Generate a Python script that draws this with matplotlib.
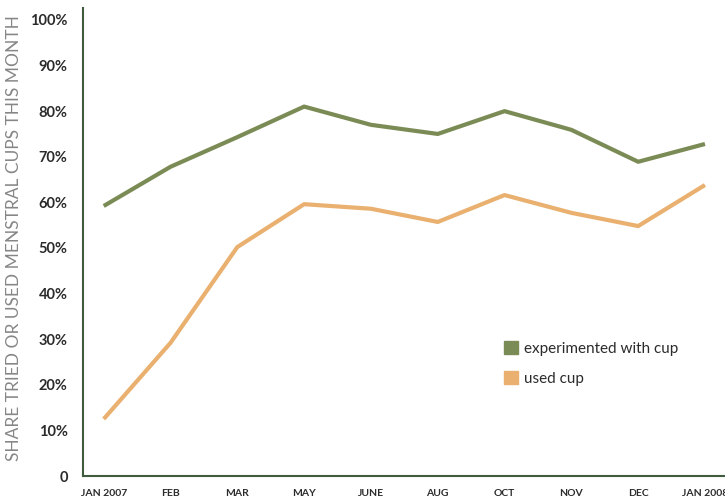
"""Menstrual cup usage chart"""

import matplotlib
matplotlib.use("Agg")
import matplotlib.pyplot as plt
from matplotlib.patches import Patch

# ── data ──────────────────────────────────────────
months = ["JAN 2007", "FEB", "MAR", "MAY", "JUNE", "AUG", "OCT", "NOV", "DEC", "JAN 2008"]
experimented = [59.2, 67.8, 74.3, 81.0, 77.0, 75.0, 80.0, 75.9, 68.9, 72.8]
used = [12.5, 29.2, 50.2, 59.6, 58.6, 55.7, 61.6, 57.7, 54.8, 63.8]
y_ticks = [0, 10, 20, 30, 40, 50, 60, 70, 80, 90, 100]
y_labels = ["0"] + [f"{v}%" for v in y_ticks[1:]]

GREEN = "#7b8b55"
ORANGE = "#e9b06f"
SPINE = "#3f5a3c"
TEXT = "#2b2b2b"

plt.rcParams["font.family"] = ["Lato", "DejaVu Sans"]

fig = plt.figure(figsize=(7.25, 5.01), dpi=100)
ax = fig.add_axes([0.1145, 0.0499, 0.8855, 0.934])

x = list(range(len(months)))
ax.plot(x, experimented, color=GREEN, linewidth=3.0, solid_capstyle="butt")
ax.plot(x, used, color=ORANGE, linewidth=3.0, solid_capstyle="butt")

ax.set_xlim(-0.31, 9.3)
ax.set_ylim(0, 102.6)

ax.set_xticks(x)
ax.set_xticklabels(months, fontsize=7.5, fontweight="bold", color=TEXT)
ax.set_yticks(y_ticks)
ax.set_yticklabels(y_labels, fontsize=10.5, fontweight="bold", color=TEXT)
ax.tick_params(axis="both", length=0)
ax.tick_params(axis="x", pad=9)
ax.tick_params(axis="y", pad=11)

for side in ("top", "right"):
    ax.spines[side].set_visible(False)
for side in ("left", "bottom"):
    ax.spines[side].set_color(SPINE)
    ax.spines[side].set_linewidth(1.5)

fig.text(0.019, 0.525, "SHARE TRIED OR USED MENSTRAL CUPS THIS MONTH",
         rotation=90, ha="center", va="center", fontsize=12.5,
         color="#868686")

handles = [Patch(color=GREEN, label="experimented with cup"),
           Patch(color=ORANGE, label="used cup")]
ax.legend(handles=handles, loc="upper left", bbox_to_anchor=(0.634, 0.317),
          frameon=False, fontsize=11, handlelength=0.9, handleheight=0.9,
          handletextpad=0.4, labelspacing=1.0, labelcolor=TEXT)

fig.savefig("out.png", dpi=100)
